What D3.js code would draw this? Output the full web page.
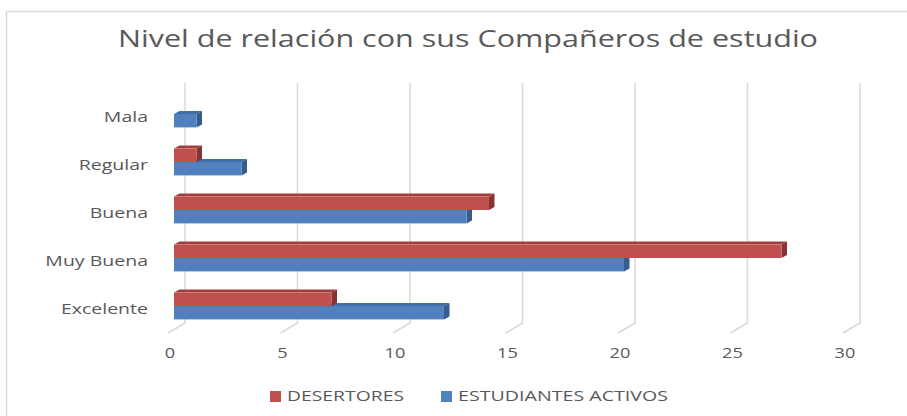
<!DOCTYPE html>
<html>
<head>
<meta charset="utf-8">
<script src="https://cdn.jsdelivr.net/npm/d3@7"></script>
<style>
  body { margin: 0; background: #fff; }
  text { font-family: "Open Sans", "DejaVu Sans", sans-serif; fill: #595959; }
</style>
</head>
<body>
<svg id="chart" width="907" height="416"></svg>
<script>
const categories = ['Mala', 'Regular', 'Buena', 'Muy Buena', 'Excelente'];
const desertores = [0, 1, 14, 27, 7];
const activos = [1, 3, 13, 20, 12];
const ticks = [0, 5, 10, 15, 20, 25, 30];
const seriesNames = ['DESERTORES', 'ESTUDIANTES ACTIVOS'];

const width = 907, height = 416;
const svg = d3.select('#chart');

// frame (only left and top edges are visible in the picture)
svg.append('path')
  .attr('d', `M6.5,${height} L6.5,11.5 L${width},11.5`)
  .attr('fill', 'none')
  .attr('stroke', '#d9d9d9')
  .attr('stroke-width', 1.5);

const x = d3.scaleLinear().domain([0, 30]).range([174, 849]);
const y = d3.scaleBand().domain(categories).range([90, 330]);
const depth = { dx: 5.5, dy: -3 };
const wallDx = 11, floorDx = -6, floorDy = 10;
const gridTop = 83, gridBottom = 323;
const barH = 13.4;

// back wall gridlines + floor strokes
const grid = svg.append('g');
ticks.forEach(t => {
  const xb = x(t) + wallDx;
  grid.append('path')
    .attr('d', `M${xb},${gridTop} L${xb},${gridBottom} L${x(t) + floorDx},${gridBottom + floorDy}`)
    .attr('fill', 'none')
    .attr('stroke', '#d9d9d9')
    .attr('stroke-width', 1.5);
});

// tick labels
svg.append('g').attr('class', 'stretch').selectAll('text')
  .data(ticks)
  .enter()
  .append('text')
  .attr('x', d => x(d) - 4)
  .attr('y', 354)
  .attr('text-anchor', 'middle')
  .attr('dominant-baseline', 'middle')
  .style('font-size', '14px')
  .text(d => d);

// category labels
svg.append('g').attr('class', 'stretch').selectAll('text')
  .data(categories)
  .enter()
  .append('text')
  .attr('x', 148)
  .attr('y', d => y(d) + y.bandwidth() / 2 + 4)
  .attr('text-anchor', 'end')
  .attr('dominant-baseline', 'middle')
  .style('font-size', '15px')
  .text(d => d);

const colors = {
  red: { front: '#c0504d', top: '#a13f3c', side: '#883331' },
  blue: { front: '#4f81bd', top: '#416ea6', side: '#355c8c' },
};

function bar3d(g, v, yTop, c) {
  if (v <= 0) return;
  const x0 = x(0), x1 = x(v), y0 = yTop, y1 = yTop + barH;
  const { dx, dy } = depth;
  g.append('path')
    .attr('d', `M${x0},${y0} L${x0 + dx},${y0 + dy} L${x1 + dx},${y0 + dy} L${x1},${y0} Z`)
    .attr('fill', c.top);
  g.append('path')
    .attr('d', `M${x1},${y0} L${x1 + dx},${y0 + dy} L${x1 + dx},${y1 + dy} L${x1},${y1} Z`)
    .attr('fill', c.side);
  g.append('rect')
    .attr('x', x0).attr('y', y0)
    .attr('width', x1 - x0).attr('height', barH)
    .attr('fill', c.front);
}

const bars = svg.append('g');
categories.forEach((cat, i) => {
  const mid = y(cat) + y.bandwidth() / 2;
  bar3d(bars, activos[i], mid, colors.blue);
  bar3d(bars, desertores[i], mid - barH, colors.red);
});

// title
svg.append('text')
  .attr('x', 468)
  .attr('y', 47)
  .attr('text-anchor', 'middle')
  .style('font-size', '24px')
  .attr('textLength', 700)
  .attr('lengthAdjust', 'spacingAndGlyphs')
  .text('Nivel de relación con sus Compañeros de estudio');

// legend
const legend = svg.append('g');
const legendItems = [
  { name: seriesNames[0], color: colors.red.front, x: 270, w: 117 },
  { name: seriesNames[1], color: colors.blue.front, x: 441, w: 210 },
];
legendItems.forEach(d => {
  legend.append('rect')
    .attr('x', d.x).attr('y', 391)
    .attr('width', 11).attr('height', 11)
    .attr('fill', d.color);
  legend.append('text')
    .attr('x', d.x + 17)
    .attr('y', 397)
    .attr('dominant-baseline', 'middle')
    .style('font-size', '14px')
    .attr('textLength', d.w)
    .attr('lengthAdjust', 'spacingAndGlyphs')
    .text(d.name);
});

// the source picture is stretched sideways: widen the labels to match
svg.selectAll('g.stretch text').each(function () {
  const len = this.getComputedTextLength();
  this.setAttribute('textLength', len * 1.3);
  this.setAttribute('lengthAdjust', 'spacingAndGlyphs');
});
</script>
</body>
</html>
